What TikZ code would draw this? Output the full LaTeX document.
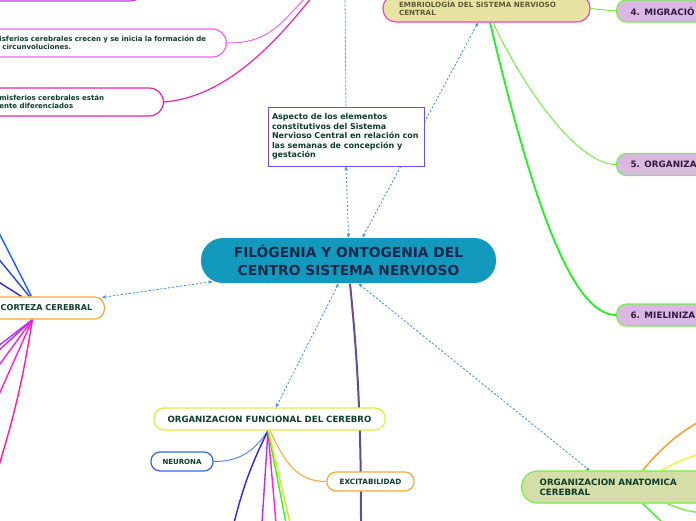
\documentclass[tikz,border=0pt]{standalone}
\usepackage{fontspec}
\setmainfont{DejaVu Sans}
\usepackage{tikz}
\usetikzlibrary{arrows.meta,backgrounds}
\definecolor{main-teal}{HTML}{1499BE}
\definecolor{main-navy}{HTML}{14284B}
\definecolor{dark-green}{HTML}{0E3D2C}
\definecolor{link-blue}{HTML}{3A8CE8}
\definecolor{asp-violet}{HTML}{6A4CF0}
\definecolor{embr-khaki}{HTML}{E8E3A3}
\definecolor{embr-pink}{HTML}{EE44CC}
\definecolor{embr-text}{HTML}{5C5C3C}
\definecolor{embr-green}{HTML}{22EE22}
\definecolor{stage-lilac}{HTML}{D9B9E2}
\definecolor{stage-green}{HTML}{77EE44}
\definecolor{stage-text}{HTML}{2E1A40}
\definecolor{cort-orange}{HTML}{FFA533}
\definecolor{orgf-lime}{HTML}{DDEE44}
\definecolor{neu-blue}{HTML}{3366EE}
\definecolor{orga-olive}{HTML}{D5DDA8}
\definecolor{crec-pink}{HTML}{EE66EE}
\definecolor{estan-pink}{HTML}{EE22AA}
\definecolor{prev-purple}{HTML}{CC33EE}
\definecolor{spine-purple}{HTML}{6A4A8C}
\definecolor{twig-blue}{HTML}{1A5CFF}
\definecolor{twig-royal}{HTML}{2244EE}
\definecolor{twig-indigo}{HTML}{3322DD}
\definecolor{twig-violet}{HTML}{AA33FF}
\definecolor{twig-purple}{HTML}{CC22FF}
\definecolor{twig-magenta}{HTML}{EE22EE}
\definecolor{twig-rose}{HTML}{FF22CC}
\definecolor{twig-deep}{HTML}{FF1AA0}
\definecolor{twig-green}{HTML}{44EE22}
\definecolor{twig-yellow}{HTML}{CCEE22}
\definecolor{twig-orange}{HTML}{FF9922}
\definecolor{twig-lemon}{HTML}{FFEE33}

\begin{document}
\begin{tikzpicture}
[
  x=1pt, y=-1pt,
  >={Stealth[length=4pt,width=3.5pt]},
  bubble/.style={rectangle,rounded corners=10pt,draw,line width=1.2pt,fill=white,text=dark-green,font=\fontsize{7}{8.4}\selectfont\bfseries},
  stage/.style={bubble,anchor=west,fill=stage-lilac,draw=stage-green,text=stage-text,minimum width=130pt,minimum height=22pt,text width=102pt,inner xsep=14pt,align=left,font=\fontsize{8.8}{10}\selectfont\bfseries},
  link/.style={draw=link-blue,line width=0.8pt,dash pattern=on 2.2pt off 1.8pt},
  twig/.style={line width=1.4pt},
]
\useasboundingbox (0,0) rectangle (696,520);

\node[bubble,fill=main-teal,draw=none,minimum width=295pt,minimum height=45pt,rounded corners=22pt,text=main-navy,align=center,font=\fontsize{13.8}{18}\selectfont\bfseries] (main) at (348.5,260.5) {FILÓGENIA Y ONTOGENIA DEL\\CENTRO SISTEMA NERVIOSO};

\node[rectangle,draw=asp-violet,line width=1pt,fill=white,minimum width=156pt,minimum height=59pt,text width=148pt,inner xsep=4pt,align=left,text=dark-green,font=\fontsize{8}{9.6}\selectfont\bfseries] (asp) at (346,136.5) {Aspecto de los elementos\\constitutivos del Sistema\\Nervioso Central en relación con\\las semanas de concepción y\\gestación};

\node[bubble,fill=embr-khaki,draw=embr-pink,minimum width=207pt,minimum height=27pt,rounded corners=13pt,text width=175pt,inner xsep=16pt,align=left,text=embr-text,font=\fontsize{7.2}{8.4}\selectfont\bfseries] (embr) at (486.5,8.5) {EMBRIOLOGÍA DEL SISTEMA NERVIOSO\\CENTRAL};

\node[stage] (s4) at (616,11) {4. MIGRACIÓ};
\node[stage] (s5) at (616,164.5) {5. ORGANIZA};
\node[stage] (s6) at (616,315) {6. MIELINIZA};

\node[bubble,draw=cort-orange,anchor=east,minimum height=22pt,text width=105pt,inner xsep=12pt,align=right,font=\fontsize{8.1}{9}\selectfont\bfseries] (cort) at (105,308) {CORTEZA CEREBRAL};

\node[bubble,draw=orgf-lime,minimum width=231pt,minimum height=22pt,font=\fontsize{8.6}{9}\selectfont\bfseries] (orgf) at (269.5,419) {ORGANIZACION FUNCIONAL DEL CEREBRO};
\node[bubble,draw=neu-blue,minimum width=62pt,minimum height=19pt,rounded corners=9pt] (neu) at (182,461.5) {NEURONA};
\node[bubble,draw=cort-orange,minimum width=87pt,minimum height=19pt,rounded corners=9pt,font=\fontsize{7.3}{8}\selectfont\bfseries] (exc) at (370.5,481.5) {EXCITABILIDAD};

\node[bubble,anchor=west,fill=orga-olive,draw=stage-green,minimum width=200pt,minimum height=32pt,rounded corners=16pt,text width=164pt,inner xsep=18pt,align=left,font=\fontsize{8.7}{10}\selectfont\bfseries] (orga) at (521,487) {ORGANIZACION ANATOMICA\\CEREBRAL};

\node[bubble,draw=prev-purple,anchor=south east,minimum width=180pt,minimum height=28pt,rounded corners=14pt] (prev) at (145,1.5) {};
\node[bubble,draw=crec-pink,anchor=east,minimum height=28pt,rounded corners=14pt,text width=215pt,inner xsep=12pt,align=left,font=\fontsize{7}{8.2}\selectfont\bfseries] (crec) at (227,43) {isferios cerebrales crecen y se inicia la formación de\\\hspace*{3pt}circunvoluciones.};
\node[bubble,draw=estan-pink,anchor=east,minimum height=28pt,rounded corners=14pt,text width=152pt,inner xsep=12pt,align=left,font=\fontsize{7}{8.2}\selectfont\bfseries] (estan) at (164,102) {misferios cerebrales están\\ente diferenciados};

\coordinate (top1) at (345,-3);
\coordinate (tp1) at (306,-3);
\coordinate (tp2) at (312,-3);
\coordinate (cl1) at (-3,229);
\coordinate (cl2) at (-3,257);
\coordinate (cl3) at (-3,281);
\coordinate (cl4) at (-3,347);
\coordinate (cl5) at (-3,352);
\coordinate (cl6) at (-3,368);
\coordinate (cl7) at (-3,399);
\coordinate (cl8) at (-3,472);
\coordinate (fb1) at (234,523);
\coordinate (fb2) at (262,523);
\coordinate (fb3) at (276,523);
\coordinate (fb4) at (286,523);
\coordinate (fb5) at (290,523);
\coordinate (oa1) at (705,418);
\coordinate (oa2) at (705,452);
\coordinate (ob1) at (665,525);
\coordinate (ob2) at (705,513);
\coordinate (pb) at (361,523);

\begin{scope}[on background layer]
\draw[link,<->] (main.north) -- (asp.south);
\draw[link] (asp.north) -- (top1);
\draw[link,<->] ([xshift=14pt]main.north) -- ([xshift=-8.5pt]embr.south);
\draw[link,<->] ([xshift=12pt,yshift=2pt]main.south west) -- ([xshift=-3pt,yshift=-1pt]cort.north east);
\draw[link,<->] ([xshift=-10pt]main.south) -- ([xshift=6.5pt]orgf.north);
\draw[link,<->] ([xshift=10pt]main.south) -- ([xshift=-32pt]orga.north);

\draw[line width=2pt,spine-purple] ([xshift=1.5pt]main.south) .. controls +(8,80) and +(0,-100) .. (pb);

\draw[line width=1pt,crec-pink] (crec.east) .. controls +(40,0) and +(-28,30) .. (tp1);
\draw[line width=1.2pt,estan-pink] (estan.east) .. controls +(60,-5) and +(-40,50) .. (tp2);

\draw[line width=1pt,stage-green] (embr.east) -- (s4.west);
\draw[line width=1pt,stage-green] ([xshift=6.5pt]embr.south) .. controls +(27,58) and +(-41,0) .. (s5.west);
\draw[line width=1.8pt,embr-green] ([xshift=3.5pt]embr.south) .. controls +(40,168) and +(-46,0) .. (s6.west);

\draw[twig,twig-blue] ([xshift=-8.5pt]cort.north) -- (cl1);
\draw[twig,twig-royal] ([xshift=-10.5pt]cort.north) -- (cl2);
\draw[twig,twig-indigo] ([xshift=-18.5pt]cort.north) -- (cl3);
\draw[twig,twig-violet] ([xshift=-7.5pt]cort.south) -- (cl4);
\draw[twig,twig-purple] ([xshift=-7.5pt]cort.south) -- (cl5);
\draw[twig,twig-magenta] ([xshift=-7.5pt]cort.south) -- (cl6);
\draw[twig,twig-rose] ([xshift=-7.5pt]cort.south) -- (cl7);
\draw[twig,twig-deep] ([xshift=-7.5pt]cort.south) to[bend left=4] (cl8);

\draw[line width=1pt,neu-blue!80!white] ([xshift=-1.5pt]orgf.south) .. controls +(-15,22) and +(25,0) .. (neu.east);
\draw[line width=1pt,cort-orange] ([xshift=0.5pt]orgf.south) .. controls +(15,32) and +(-30,0) .. (exc.west);
\draw[twig,twig-indigo] ([xshift=-1.5pt]orgf.south) to[bend right=6] (fb1);
\draw[twig,twig-violet] ([xshift=-1.5pt]orgf.south) -- (fb2);
\draw[twig,twig-rose] ([xshift=-1.5pt]orgf.south) -- (fb3);
\draw[twig,twig-green] ([xshift=-1.5pt]orgf.south) -- (fb4);
\draw[twig,twig-yellow] ([xshift=-1pt]orgf.south) -- (fb5);

\draw[twig,twig-orange] ([xshift=21pt]orga.north) to[bend left=10] (oa1);
\draw[twig,twig-lemon] ([xshift=39pt]orga.north) to[bend left=5] (oa2);
\draw[twig,twig-green] ([xshift=21pt]orga.south) -- (ob1);
\draw[twig,stage-green] ([xshift=46pt]orga.south) to[bend right=10] (ob2);
\end{scope}
\end{tikzpicture}
\end{document}
